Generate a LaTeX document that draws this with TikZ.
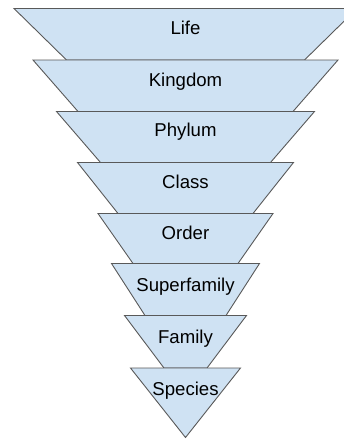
\documentclass[tikz,border=0pt]{standalone}
\usepackage{fontspec}
\setmainfont{Liberation Sans}
\definecolor{tierfill}{HTML}{CFE2F3}
\definecolor{tierline}{HTML}{595959}
\begin{document}
\begin{tikzpicture}[x=1pt,y=-1pt,
  tier/.style={fill=tierfill,draw=tierline,line width=0.9pt,line join=miter},
  tiertext/.style={anchor=base,inner sep=0pt,font=\fontsize{18.6}{20}\selectfont,text=black}]
\useasboundingbox (0,0) rectangle (344,439);
\def\cx{185.5}
\foreach \i/\ty/\by/\th/\bh/\bl/\txt in {
  1/8.5/60/171.5/119/34.3/Life,
  2/60/111.5/152.5/107.5/86/Kingdom,
  3/111.5/162.5/129/85/136.7/Phylum,
  4/162.5/213.5/108/67.5/188.3/Class,
  5/213.5/263.5/87.5/52.5/239.3/Order,
  6/263.5/315.5/74/40.5/291.7/Superfamily,
  7/315.5/368/61/21.5/343.3/Family,
  8/368/437.5/55/0/395/Species}{
  \draw[tier] (\cx-\th,\ty) -- (\cx+\th,\ty) -- (\cx+\bh,\by) -- (\cx-\bh,\by) -- cycle;
  \node[tiertext] (t\i) at (\cx,\bl) {\txt};
}
\end{tikzpicture}
\end{document}
